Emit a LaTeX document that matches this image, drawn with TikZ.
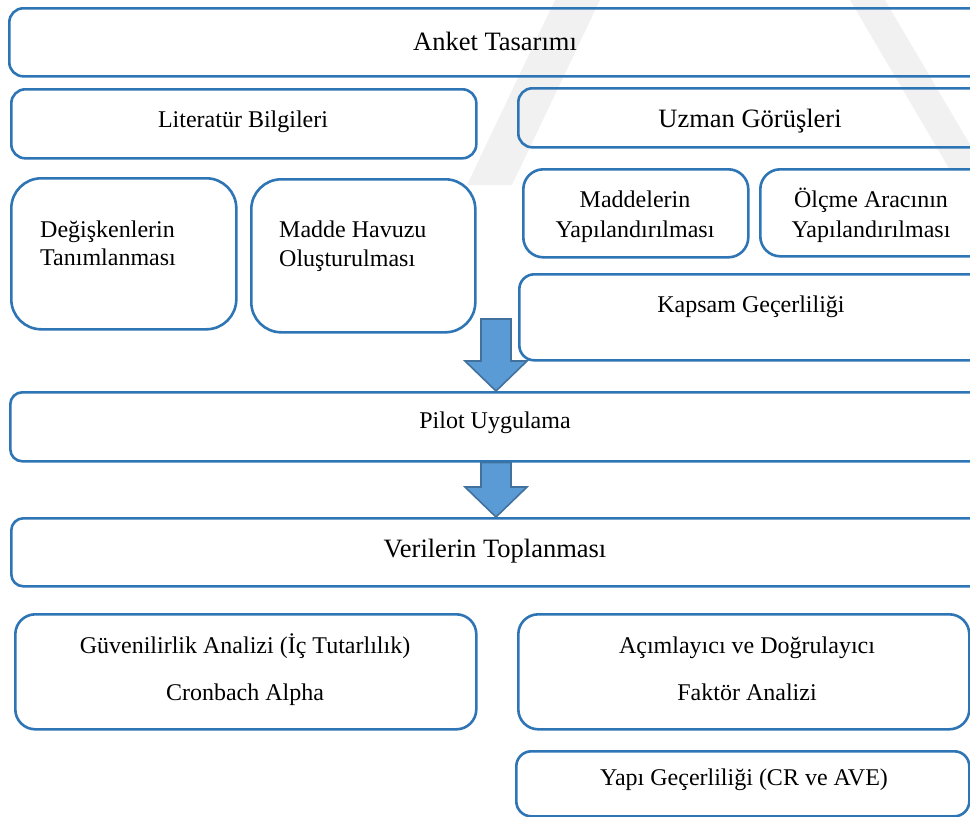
\documentclass[tikz,border=0pt]{standalone}
\usepackage{fontspec}
\setmainfont{Liberation Serif}
\usetikzlibrary{calc}
\definecolor{boxline}{HTML}{2E75B6}
\definecolor{arrowfill}{HTML}{5B9BD5}
\definecolor{arrowline}{HTML}{41719C}
\definecolor{markgray}{HTML}{F1F1F1}
% rounded panel: name, left, top, width, height, corner radius
\newcommand{\panelbox}[6]{%
  \node[panel, rounded corners=#6pt, minimum width=#4pt, minimum height=#5pt,
        anchor=north west] (#1) at (#2,#3) {};}
% block arrow from a shaft top to a tip, with a given head depth
\newcommand{\blockarrow}[3]{%
  \draw[flowarrow] ($(#1)+(-15,0)$) -- ($(#1)+(15,0)$) -- ($(#2)+(15,-#3)$)
    -- ($(#2)+(31,-#3)$) -- (#2) -- ($(#2)+(-31,-#3)$) -- ($(#2)+(-15,-#3)$) -- cycle;}
\begin{document}
\begin{tikzpicture}[x=1pt,y=-1pt,
  panel/.style={draw=boxline, line width=2.6pt, inner sep=0pt},
  small/.style={font=\fontsize{24}{28}\selectfont, anchor=base, inner sep=0pt},
  large/.style={font=\fontsize{26.5}{30}\selectfont, anchor=base, inner sep=0pt},
  flowarrow/.style={fill=arrowfill, draw=arrowline, line width=1.6pt, line join=miter}]
\useasboundingbox (0,0) rectangle (970,817);
\begin{scope}
\clip (0,0) rectangle (970,817);
% faint background stripes
\fill[markgray] (555,0) -- (600,0) -- (512,185) -- (467,185) -- cycle;
\fill[markgray] (850,0) -- (885,0) -- (985,170) -- (950,170) -- cycle;
% panels
\panelbox{anket}{8}{7}{1000}{68}{14}
\panelbox{literatur}{10}{88}{465}{69}{14}
\panelbox{uzman}{517}{87}{490}{59}{14}
\panelbox{degisken}{10}{177}{225}{151}{30}
\panelbox{havuz}{250}{178}{224}{153}{30}
\panelbox{maddeler}{522}{168}{225}{88}{20}
\panelbox{olcme}{759}{168}{240}{87}{20}
\panelbox{kapsam}{518}{273}{480}{86}{15}
\panelbox{pilot}{9}{391}{1000}{69}{12}
\panelbox{veriler}{10}{517}{1000}{68}{12}
\panelbox{guven}{14}{613}{461}{115}{20}
\panelbox{faktor}{517}{613}{451}{115}{20}
\panelbox{yapi}{515}{750}{453}{65}{15}
% texts
\node[large] (tanket) at (495,50) {Anket Tasarımı};
\node[small] (tlit) at (243,127) {Literatür Bilgileri};
\node[large] (tuzman) at (750,127) {Uzman Görüşleri};
\node[small, anchor=base west] (tdeg1) at (40,237) {Değişkenlerin};
\node[small, anchor=base west] (tdeg2) at (40,265) {Tanımlanması};
\node[small, anchor=base west] (thav1) at (279,237) {Madde Havuzu};
\node[small, anchor=base west] (thav2) at (279,266) {Oluşturulması};
\node[small] (tmad1) at (635,207) {Maddelerin};
\node[small] (tmad2) at (635,237) {Yapılandırılması};
\node[small] (tolc1) at (871,207) {Ölçme Aracının};
\node[small] (tolc2) at (871,237) {Yapılandırılması};
\node[small] (tkap) at (751,312) {Kapsam Geçerliliği};
\node[small] (tpil) at (495,428) {Pilot Uygulama};
\node[large] (tver) at (495,557) {Verilerin Toplanması};
\node[small] (tguv1) at (245,653) {Güvenilirlik Analizi (İç Tutarlılık)};
\node[small] (tguv2) at (245,700) {Cronbach Alpha};
\node[small] (tfak1) at (747,653) {Açımlayıcı ve Doğrulayıcı};
\node[small] (tfak2) at (747,700) {Faktör Analizi};
\node[small] (tyapi) at (744,785) {Yapı Geçerliliği (CR ve AVE)};
% arrows
\coordinate (a1top) at (496,319);
\coordinate (a1tip) at (a1top |- pilot.north);
\coordinate (a2top) at (a1top |- pilot.south);
\coordinate (a2tip) at (a1top |- veriler.north);
\blockarrow{a1top}{a1tip}{30}
\blockarrow{a2top}{a2tip}{30}
\end{scope}
\end{tikzpicture}
\end{document}
